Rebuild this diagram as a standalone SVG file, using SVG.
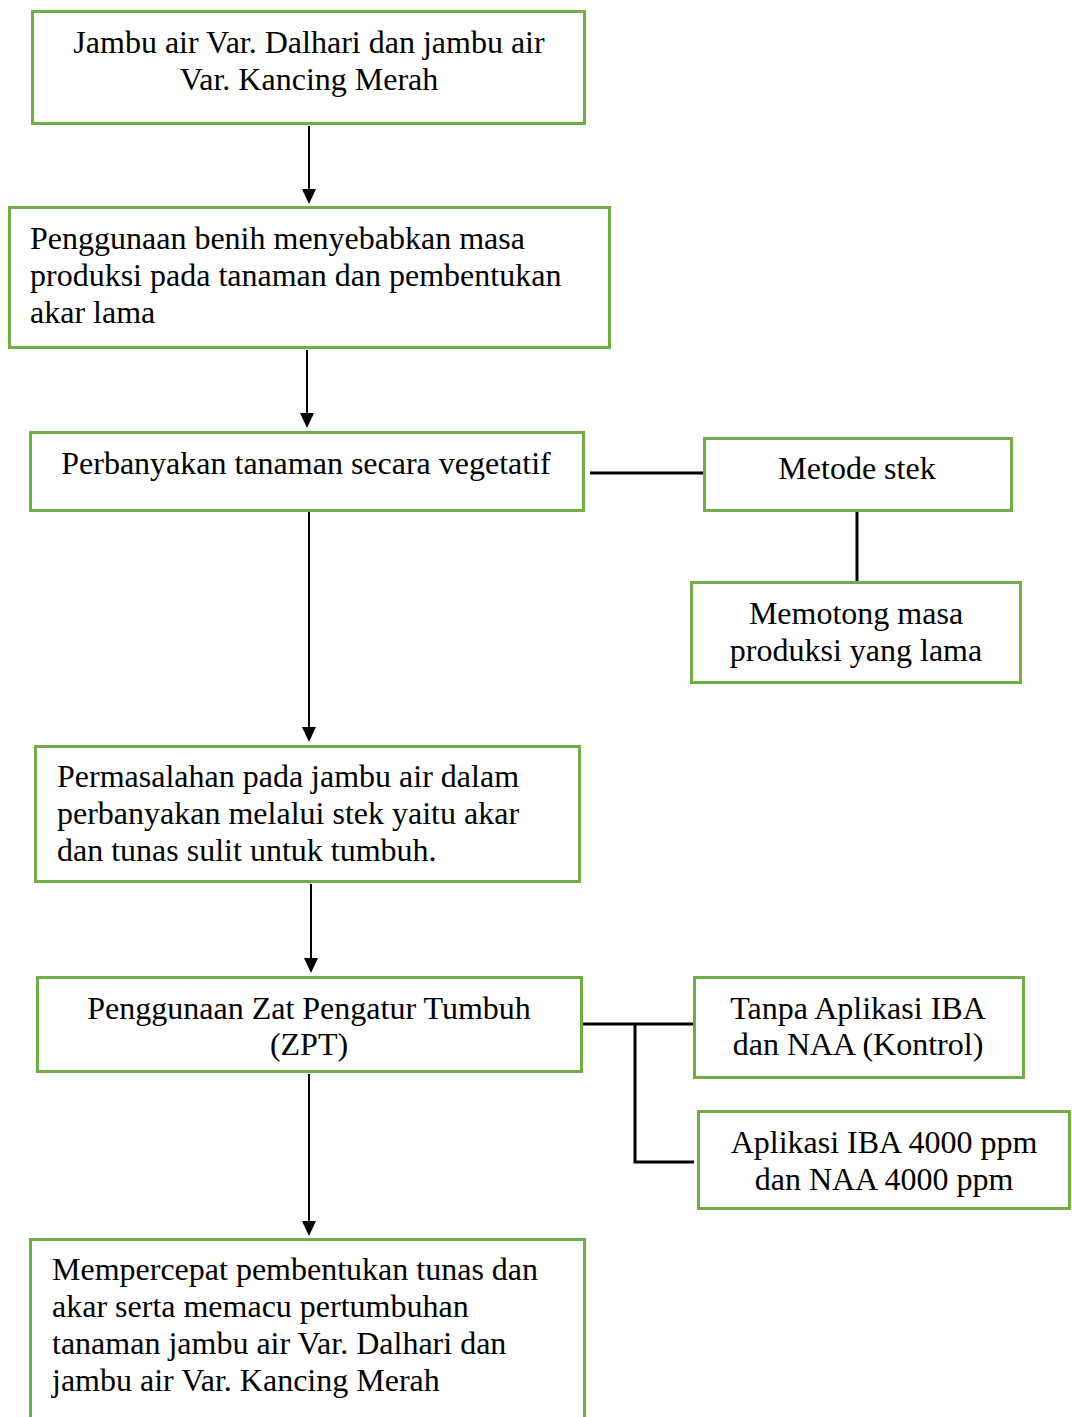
<svg xmlns="http://www.w3.org/2000/svg" width="1072" height="1417" viewBox="0 0 1072 1417">
<style>
.box{fill:#fff;stroke:#70AD47;stroke-width:3}
.t{font-family:"Liberation Serif","Times New Roman",serif;font-size:32px;fill:#000}
.c{text-anchor:middle}
.ln{stroke:#000;stroke-width:3;fill:none}
.ar{stroke:#000;stroke-width:2;fill:none}
</style>
<rect width="1072" height="1417" fill="#fff"/>
<g id="connectors">
<line class="ar" x1="309" y1="126" x2="309" y2="192"/><path d="M302,189 L316,189 L309,204 z"/>
<line class="ar" x1="307" y1="350" x2="307" y2="416"/><path d="M300,413 L314,413 L307,428 z"/>
<line class="ar" x1="309" y1="511" x2="309" y2="730"/><path d="M302,727 L316,727 L309,742 z"/>
<line class="ar" x1="311" y1="884" x2="311" y2="961"/><path d="M304,958 L318,958 L311,973 z"/>
<line class="ar" x1="309" y1="1074" x2="309" y2="1224"/><path d="M302,1221 L316,1221 L309,1236 z"/>
<line class="ln" x1="590" y1="473" x2="703" y2="473"/>
<line class="ln" x1="857" y1="511" x2="857" y2="581"/>
<polyline class="ln" points="582,1024 694,1024"/>
<polyline class="ln" points="635,1024 635,1162 694,1162"/>
</g>
<g id="n1"><rect class="box" x="32.5" y="11.5" width="552" height="112"/>
<text class="t c" x="309" y="53">Jambu air Var. Dalhari dan jambu air</text>
<text class="t c" x="309" y="90">Var. Kancing Merah</text></g>
<g id="n2"><rect class="box" x="9.5" y="207.5" width="600" height="140"/>
<text class="t" x="30" y="249">Penggunaan benih menyebabkan masa</text>
<text class="t" x="30" y="286">produksi pada tanaman dan pembentukan</text>
<text class="t" x="30" y="323">akar lama</text></g>
<g id="n3"><rect class="box" x="30.5" y="432.5" width="553" height="78"/>
<text class="t c" x="306" y="474">Perbanyakan tanaman secara vegetatif</text></g>
<g id="n4"><rect class="box" x="704.5" y="438.5" width="307" height="72"/>
<text class="t c" x="857" y="479">Metode stek</text></g>
<g id="n5"><rect class="box" x="691.5" y="582.5" width="329" height="100"/>
<text class="t c" x="856" y="624">Memotong masa</text>
<text class="t c" x="856" y="661">produksi yang lama</text></g>
<g id="n6"><rect class="box" x="35.5" y="746.5" width="544" height="135"/>
<text class="t" x="57" y="787">Permasalahan pada jambu air dalam</text>
<text class="t" x="57" y="824">perbanyakan melalui stek yaitu akar</text>
<text class="t" x="57" y="861">dan tunas sulit untuk tumbuh.</text></g>
<g id="n7"><rect class="box" x="37.5" y="977.5" width="544" height="94"/>
<text class="t c" x="309" y="1019">Penggunaan Zat Pengatur Tumbuh</text>
<text class="t c" x="309" y="1055">(ZPT)</text></g>
<g id="n8"><rect class="box" x="694.5" y="977.5" width="329" height="100"/>
<text class="t c" x="858" y="1019">Tanpa Aplikasi IBA</text>
<text class="t c" x="858" y="1055">dan NAA (Kontrol)</text></g>
<g id="n9"><rect class="box" x="698.5" y="1111.5" width="371" height="97"/>
<text class="t c" x="884" y="1153">Aplikasi IBA 4000 ppm</text>
<text class="t c" x="884" y="1190">dan NAA 4000 ppm</text></g>
<g id="n10"><rect class="box" x="30.5" y="1239.5" width="554" height="200"/>
<text class="t" x="52" y="1280">Mempercepat pembentukan tunas dan</text>
<text class="t" x="52" y="1317">akar serta memacu pertumbuhan</text>
<text class="t" x="52" y="1354">tanaman jambu air Var. Dalhari dan</text>
<text class="t" x="52" y="1391">jambu air Var. Kancing Merah</text></g>
</svg>
